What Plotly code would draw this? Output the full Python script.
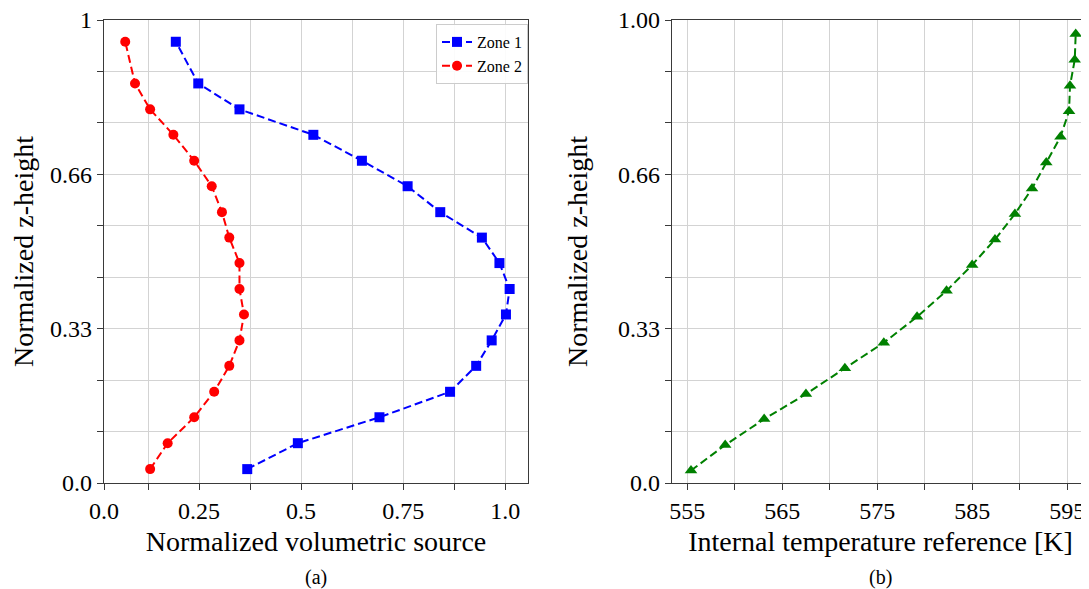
import plotly.graph_objects as go

# ---------------- data ----------------
z_zone = [0.030, 0.086, 0.142, 0.197, 0.253, 0.308, 0.364, 0.419, 0.475,
          0.530, 0.585, 0.641, 0.696, 0.752, 0.807, 0.863, 0.953]
zone1 = [0.368, 0.492, 0.692, 0.865, 0.929, 0.967, 1.002, 1.011, 0.986,
         0.943, 0.841, 0.761, 0.649, 0.530, 0.349, 0.248, 0.193]
zone2 = [0.130, 0.173, 0.238, 0.287, 0.324, 0.349, 0.360, 0.349, 0.349,
         0.324, 0.306, 0.281, 0.238, 0.187, 0.130, 0.093, 0.069]

z_temp = [0.027, 0.082, 0.138, 0.192, 0.248, 0.303, 0.359, 0.415, 0.471,
          0.526, 0.581, 0.636, 0.692, 0.748, 0.803, 0.858, 0.914, 0.970]
temp = [555.4, 559.0, 563.1, 567.5, 571.6, 575.7, 579.2, 582.3, 585.0,
        587.4, 589.5, 591.3, 592.8, 594.3, 595.2, 595.3, 595.8, 595.9]

x1_ticks = [0.017, 0.25, 0.5, 0.75, 1.0]
x1_ticktext = ["0.0", "0.25", "0.5", "0.75", "1.0"]
x1_minor = [0.125, 0.375, 0.625, 0.875]
y_ticks = [0, 1/3, 2/3, 1]
y1_ticktext = ["0.0", "0.33", "0.66", "1"]
y2_ticktext = ["0.0", "0.33", "0.66", "1.00"]
y_minor = [1/9, 2/9, 4/9, 5/9, 7/9, 8/9]
x2_ticks = [555, 565, 575, 585, 595]
x2_minor = [560, 570, 580, 590]

FONT = "Liberation Serif"
SPINE = "#3a3a3a"
GRID = "#d3d3d3"
DASH = "8px,4px"

# the page body adds an 8px offset; the figure covers the rest of the window
W, H = 1081, 581
OFF = 8


def px(v):
    return (v - OFF) / W


def py(v):
    return (H - (v - OFF)) / H


fig = go.Figure()
fig.add_trace(go.Scatter(x=zone1, y=z_zone, mode="lines+markers", name="Zone 1",
                         line=dict(color="#0000ff", width=2, dash=DASH),
                         marker=dict(symbol="square", size=10, color="#0000ff"),
                         xaxis="x", yaxis="y"))
fig.add_trace(go.Scatter(x=zone2, y=z_zone, mode="lines+markers", name="Zone 2",
                         line=dict(color="#ff0000", width=2, dash=DASH),
                         marker=dict(symbol="circle", size=10, color="#ff0000"),
                         xaxis="x", yaxis="y"))
fig.add_trace(go.Scatter(x=temp, y=z_temp, mode="lines+markers", name="Temperature",
                         showlegend=False,
                         line=dict(color="#008000", width=2, dash=DASH),
                         marker=dict(symbol="triangle-up", size=11, color="#008000"),
                         xaxis="x2", yaxis="y2"))

tickfont = dict(family=FONT, size=24, color="black")
titlefont = dict(family=FONT, size=28, color="black")

common = dict(showline=True, linecolor=SPINE, linewidth=1.3, mirror=True,
              ticks="outside", ticklen=6, tickcolor=SPINE, tickwidth=1.2,
              showgrid=True, gridcolor=GRID, gridwidth=1, zeroline=False,
              tickfont=tickfont, automargin=False, ticklabeloverflow="allow")

ydom = [py(483), py(20)]

fig.update_layout(
    width=W, height=H,
    margin=dict(l=0, r=0, t=0, b=0, autoexpand=False),
    paper_bgcolor="white", plot_bgcolor="white",
    font=dict(family=FONT, color="black"),
    xaxis=dict(domain=[px(104), px(528)], range=[0.017, 1.056],
               tickmode="array", tickvals=x1_ticks, ticktext=x1_ticktext,
               minor=dict(tickmode="array", tickvals=x1_minor, ticks="outside",
                          ticklen=6, tickcolor=SPINE, showgrid=True,
                          gridcolor=GRID, gridwidth=1),
               title=dict(text="Normalized volumetric source", font=titlefont,
                          standoff=8),
               anchor="y", **common),
    yaxis=dict(domain=ydom, range=[0, 1],
               tickmode="array", tickvals=y_ticks, ticktext=y1_ticktext,
               minor=dict(tickmode="array", tickvals=y_minor, ticks="outside",
                          ticklen=6, tickcolor=SPINE, showgrid=True,
                          gridcolor=GRID, gridwidth=1),
               title=dict(text="Normalized z-height", font=titlefont, standoff=19),
               anchor="x", **common),
    xaxis2=dict(domain=[px(672), 1.0], range=[553.4, 597.3],
                tickmode="array", tickvals=x2_ticks,
                minor=dict(tickmode="array", tickvals=x2_minor, ticks="outside",
                           ticklen=6, tickcolor=SPINE, showgrid=True,
                           gridcolor=GRID, gridwidth=1),
                title=dict(text="Internal temperature reference [K]", font=titlefont,
                           standoff=8),
                anchor="y2", **common),
    yaxis2=dict(domain=ydom, range=[0, 1],
                tickmode="array", tickvals=y_ticks, ticktext=y2_ticktext,
                minor=dict(tickmode="array", tickvals=y_minor, ticks="outside",
                           ticklen=6, tickcolor=SPINE, showgrid=True,
                           gridcolor=GRID, gridwidth=1),
                title=dict(text="Normalized z-height", font=titlefont, standoff=22),
                anchor="x2", **common),
    legend=dict(x=px(528), y=py(24), xanchor="right", yanchor="top",
                bgcolor="rgba(255,255,255,0.9)", bordercolor="#cccccc", borderwidth=1,
                font=dict(family=FONT, size=16, color="black"),
                itemwidth=30, tracegroupgap=0),
    showlegend=True,
    annotations=[
        dict(text="(a)", x=px(316), y=py(577), xref="paper", yref="paper",
             showarrow=False, font=dict(family=FONT, size=20, color="black"),
             xanchor="center", yanchor="middle"),
        dict(text="(b)", x=px(880), y=py(577), xref="paper", yref="paper",
             showarrow=False, font=dict(family=FONT, size=20, color="black"),
             xanchor="center", yanchor="middle"),
    ],
)

fig.write_html("out.html")
